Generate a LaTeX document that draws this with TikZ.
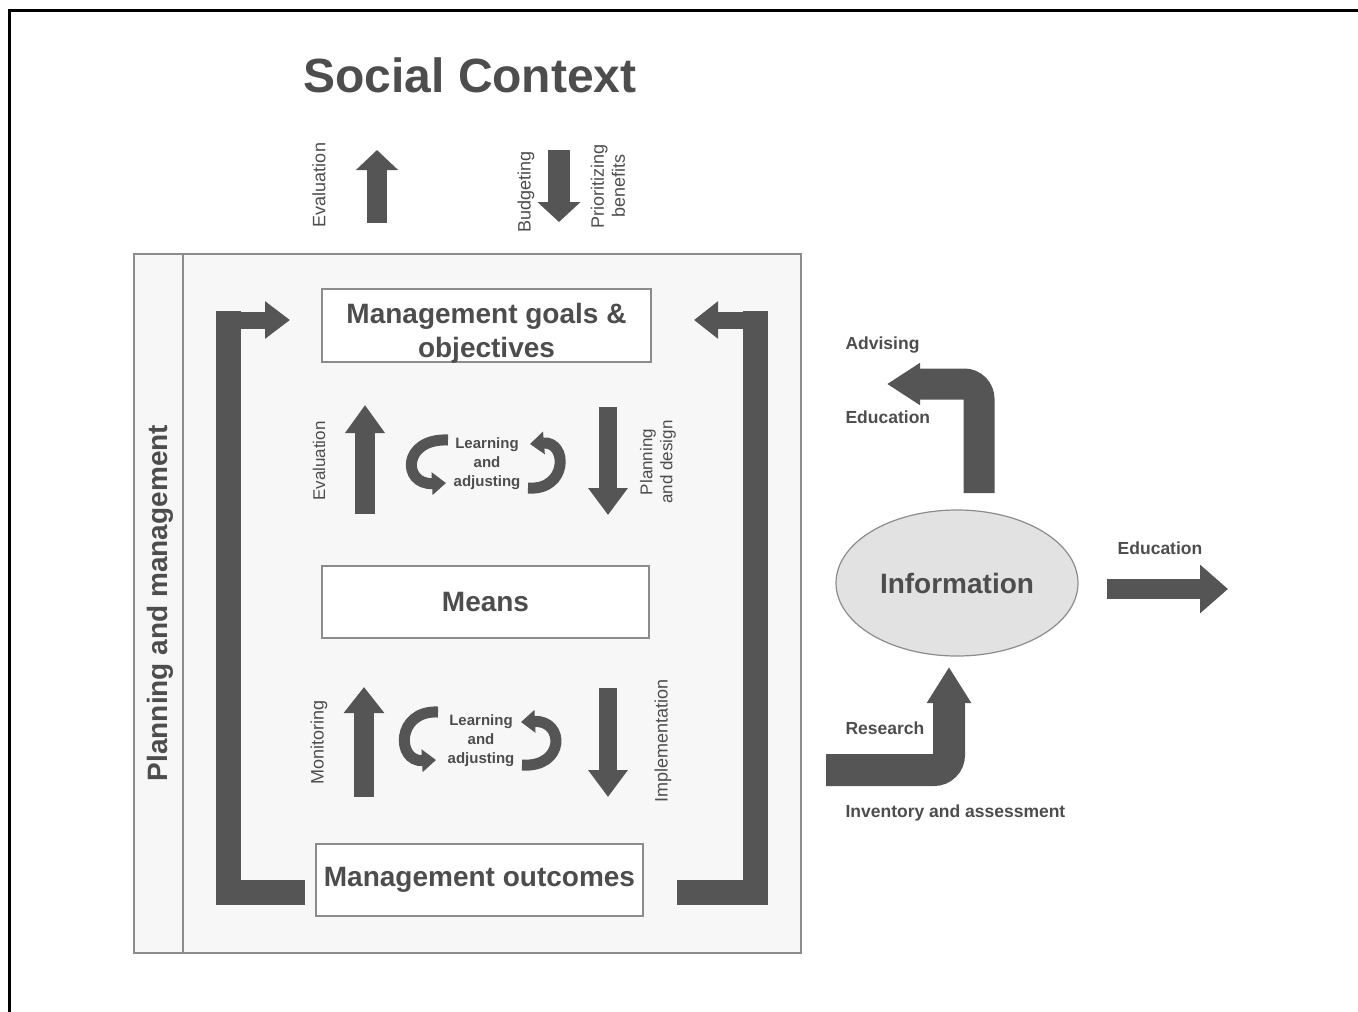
\documentclass[tikz,border=0pt]{standalone}
\usepackage{fontspec}
\setmainfont{Liberation Sans}
\usetikzlibrary{arrows.meta,shapes.geometric}
\definecolor{arrowgrey}{HTML}{555555}
\definecolor{textgrey}{HTML}{4D4D4D}
\definecolor{linegrey}{HTML}{8C8C8C}
\definecolor{panelgrey}{HTML}{F7F7F7}
\definecolor{infogrey}{HTML}{E2E2E2}

\begin{document}
\begin{tikzpicture}[x=1pt,y=-1pt,
  box/.style={draw=linegrey, line width=1.5pt, fill=white, minimum width=329pt, minimum height=73pt, inner sep=0pt},
  big/.style={text=textgrey, font=\bfseries\fontsize{28}{34}\selectfont, align=center},
  small/.style={text=textgrey, font=\fontsize{18}{21}\selectfont, align=center},
  smallb/.style={text=textgrey, font=\bfseries\fontsize{17.5}{21}\selectfont},
  learn/.style={text=textgrey, font=\bfseries\fontsize{15}{19}\selectfont, align=center},
  barrow/.style={arrowgrey, line width=20pt, -{Triangle[width=38pt,length=28pt]}},
  curly/.style={arrowgrey, line width=11pt, -{Triangle[width=22pt,length=14pt]}}]
\useasboundingbox (0,0) rectangle (1358,1012);
\draw[black, line width=3pt] (9,1012) -- (9,10) -- (1358,10);

% social context
\node[text=textgrey, font=\bfseries\fontsize{48}{58}\selectfont] (title) at (470,75) {Social Context};
\draw[barrow, -{Triangle[width=41pt,length=20pt]}] (377,223) -- (377,150);
\draw[barrow, line width=22pt, -{Triangle[width=42pt,length=20pt]}] (559,150) -- (559,222);
\node[small, rotate=90] (evaltop) at (319,185) {Evaluation};
\node[small, rotate=90] (budget) at (526,192) {Budgeting};
\node[small, rotate=90] (prior) at (608,186) {Prioritizing\\benefits};

% planning and management panel
\draw[linegrey, line width=1.5pt, fill=panelgrey] (134,254) rectangle (801,953);
\draw[linegrey, line width=1.5pt] (183,254) -- (183,953);
\node[big, rotate=90] (plan) at (160,603) {Planning and management};

% brackets
\draw[barrow, -, line width=25pt, line join=miter] (305,892) -- (228,892) -- (228,311);
\draw[barrow, line width=17pt, -{Triangle[width=36pt,length=25pt]}] (215.5,320) -- (290,320);
\draw[barrow, -, line width=25pt, line join=miter] (677,892) -- (755,892) -- (755,311);
\draw[barrow, line width=17pt, -{Triangle[width=36pt,length=24pt]}] (767.5,320) -- (694,320);

% boxes
\node[box] (goals) at (486.5,325.5) {};
\node[big] (goalstxt) at (486.5,333) {Management goals \&\\objectives};
\node[box, big, minimum width=327pt, minimum height=72pt] (means) at (485.5,602) {Means};
\node[box, big, minimum width=327pt, minimum height=72pt] (outcomes) at (479.5,880) {Management outcomes};

% upper loop
\draw[barrow] (365,514) -- (365,405);
\draw[barrow, line width=18pt, -{Triangle[width=38pt,length=27pt]}] (608,407) -- (608,515);
\node[small, font=\fontsize{17}{20}\selectfont, rotate=90] (evalin) at (319,461) {Evaluation};
\node[small, font=\fontsize{17}{20}\selectfont, rotate=90] (plandes) at (658,462) {Planning\\and design};
\node[learn] (learnup) at (487,464) {Learning\\and\\adjusting};
\draw[curly] (448,440) .. controls (402,438) and (402,485) .. (446,483);
\draw[curly] (528,488) .. controls (568,491) and (568,441) .. (530,444);

% lower loop
\draw[barrow, -{Triangle[width=39pt,length=26pt]}] (364,797) -- (364,687);
\draw[barrow, line width=18pt, -{Triangle[width=38pt,length=27pt]}] (608,688) -- (608,797);
\node[small, rotate=90] (monit) at (319,742) {Monitoring};
\node[small, rotate=90] (implem) at (663,741) {Implementation};
\node[learn] (learnlow) at (481,741) {Learning\\and\\adjusting};
\draw[curly] (438,712) .. controls (396,710) and (396,762) .. (436,760);
\draw[curly] (522,765) .. controls (565,768) and (565,720) .. (521,722);

% information
\node[ellipse, draw=linegrey, fill=infogrey, line width=1.2pt, minimum width=242pt, minimum height=146pt, big] (info) at (957,583) {Information};
\draw[barrow, line width=31pt, rounded corners=15pt, -{Triangle[width=40pt,length=33pt]}] (979,493) -- (979,384) -- (887,384);
\node[smallb, anchor=west] (advis) at (842,345) {Advising};
\node[smallb, anchor=west] (educup) at (842,417) {Education};
\draw[barrow, -{Triangle[width=47pt,length=28pt]}] (1107,589) -- (1228,589);
\node[smallb] (educright) at (1160,548) {Education};
\draw[barrow, line width=32pt, rounded corners=15pt, -{Triangle[width=42pt,length=36pt]}] (826,770) -- (949,770) -- (949,667);
\node[smallb, anchor=west] (research) at (842,728) {Research};
\node[smallb, anchor=west] (invent) at (842,813) {Inventory and assessment};
\end{tikzpicture}
\end{document}
